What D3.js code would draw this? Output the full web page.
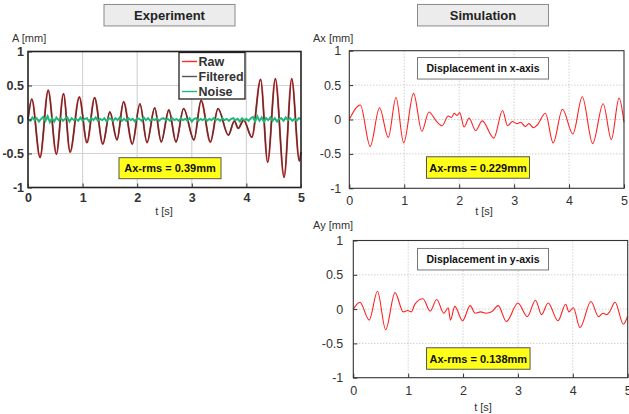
<!DOCTYPE html>
<html>
<head>
<meta charset="utf-8">
<script src="https://cdn.jsdelivr.net/npm/d3@7"></script>
<style>
  body { margin: 0; background: #fff; }
  svg { font-family: "Liberation Sans", Arial, sans-serif; }
</style>
</head>
<body>
<div id="chart"></div>
<script>
// experiment: peaks / troughs (t in s, A in mm)
const expT = [0, 0.07, 0.22, 0.37, 0.52, 0.65, 0.77, 0.94, 1.08, 1.22, 1.37, 1.50, 1.63, 1.75, 1.91, 2.05, 2.18,
  2.32, 2.44, 2.58, 2.71, 2.85, 3.04, 3.17, 3.34, 3.48, 3.67, 3.78, 3.85, 3.95, 4.10, 4.26, 4.39, 4.53, 4.69, 4.83, 4.97, 5.0];
const expA = [0, 0.30, -0.56, 0.43, -0.51, 0.38, -0.48, 0.33, -0.34, 0.32, -0.36, 0.11, -0.30, 0.26, -0.36, 0.23, -0.34,
  0.17, -0.33, 0.14, -0.33, 0.16, -0.30, 0.28, -0.33, 0.16, -0.23, -0.02, -0.13, -0.01, -0.26, 0.59, -0.63, 0.60, -0.85, 0.60, -0.61, -0.48];
// noise, one value every 0.04 s
const noiseA = [0.01, -0.02, 0.03, -0.01, 0.02, -0.03, 0.01, 0.04, -0.02, 0.05, -0.04, 0.02, -0.03, 0.03, -0.01, 0.02,
  -0.02, 0.01, 0.03, -0.03, 0.02, -0.01, 0.01, -0.02, 0.03, -0.02, 0.01, 0.02, -0.03, 0.02, -0.01, 0.03, -0.02, 0.01,
  -0.01, 0.02, -0.03, 0.02, 0.01, -0.02, 0.02, -0.01, 0.03, -0.02, 0.01, -0.02, 0.02, -0.01, 0.01, -0.03, 0.02, 0.01,
  -0.02, 0.03, -0.01, 0.02, -0.02, 0.01, -0.01, 0.02, -0.02, 0.01, 0.02, -0.01, 0.01, -0.02, 0.02, -0.01, 0.01, -0.02,
  0.02, -0.01, 0.01, -0.02, 0.02, -0.03, 0.01, 0.02, -0.02, 0.01, -0.01, 0.02, -0.02, 0.01, -0.01, 0.02, -0.01, 0.01,
  -0.02, 0.02, -0.01, 0.01, -0.02, 0.01, 0.02, -0.01, 0.01, -0.03, 0.02, -0.01, 0.01, -0.02, 0.02, 0.04, -0.03, 0.05,
  -0.02, 0.03, -0.04, 0.02, -0.01, 0.03, -0.02, 0.02, -0.03, 0.01, 0.02, -0.02, 0.03, -0.01, 0.02, -0.02, 0.01, -0.02, 0.02, 0.01];

// simulation x
const simXT = [0, 0.2, 0.38, 0.55, 0.71, 0.85, 0.99, 1.17, 1.32, 1.45, 1.58, 1.69, 1.80, 1.86, 1.91, 1.96, 2.01, 2.09,
  2.18, 2.30, 2.42, 2.63, 2.79, 2.88, 2.97, 3.05, 3.12, 3.20, 3.27, 3.35, 3.42, 3.57, 3.71, 3.88, 4.07, 4.24, 4.43, 4.62, 4.77, 4.91, 5.0];
const simXA = [0, 0.21, -0.39, 0.17, -0.26, 0.32, -0.34, 0.38, -0.17, 0.11, -0.02, -0.09, 0.05, 0.03, 0.09, 0.06, 0.10, -0.11,
  0.02, -0.16, -0.02, -0.27, 0.13, -0.09, -0.03, -0.06, -0.04, -0.10, -0.06, -0.12, -0.08, 0.09, -0.34, 0.15, -0.21, 0.33, -0.35, 0.23, -0.29, 0.31, -0.04];

// simulation y
const simYT = [0, 0.12, 0.29, 0.44, 0.59, 0.76, 0.91, 0.99, 1.06, 1.12, 1.27, 1.40, 1.52, 1.65, 1.73, 1.77, 1.85, 1.99,
  2.13, 2.22, 2.32, 2.42, 2.52, 2.64, 2.79, 3.0, 3.17, 3.32, 3.43, 3.55, 3.73, 3.87, 3.93, 4.01, 4.13, 4.33, 4.47, 4.55, 4.62, 4.67, 4.77, 4.92, 5.0];
const simYA = [0, 0.10, -0.16, 0.26, -0.30, 0.24, -0.04, -0.02, -0.04, 0.07, 0.15, -0.03, 0.14, -0.06, 0.02, -0.16, 0.04, -0.17,
  0.05, -0.06, -0.04, -0.06, -0.04, 0.05, -0.18, 0.09, -0.11, 0.13, -0.08, 0.09, -0.17, 0.07, -0.04, 0.02, -0.27, 0.11, -0.11, -0.06, -0.08, -0.04, 0.10, -0.22, -0.10];

const tTicks = [0, 1, 2, 3, 4, 5];
const aTicks = [1, 0.5, 0, -0.5, -1];
const tickLabel = d => d === 0 ? "0" : String(d);

const svg = d3.select("#chart").append("svg").attr("width", 629).attr("height", 414);

function titleBox(cx, cy, w, h, txt) {
  svg.append("rect").attr("x", cx - w / 2).attr("y", cy - h / 2).attr("width", w).attr("height", h)
    .attr("fill", "#ececec").attr("stroke", "#8a8a8a").attr("stroke-width", 1);
  svg.append("text").attr("x", cx).attr("y", cy + 4.5).attr("text-anchor", "middle")
    .attr("font-size", 13).attr("font-weight", "bold").attr("fill", "#222").text(txt);
}

function label(x, y, txt, size, anchor, weight) {
  return svg.append("text").attr("x", x).attr("y", y).attr("font-size", size)
    .attr("text-anchor", anchor || "start").attr("font-weight", weight || "normal").attr("fill", "#333").text(txt);
}

function panel(p) {
  const x = d3.scaleLinear().domain([0, 5]).range([p.x0, p.x1]);
  const y = d3.scaleLinear().domain([-1, 1]).range([p.y1, p.y0]);
  const g = svg.append("g");
  g.append("rect").attr("x", p.x0).attr("y", p.y0).attr("width", p.x1 - p.x0).attr("height", p.y1 - p.y0).attr("fill", "#fff");
  // grid
  const grid = g.append("g").attr("stroke", p.matlab ? "#d4d4d4" : "#aaa")
    .attr("stroke-width", p.matlab ? 1.2 : 0.8).attr("stroke-dasharray", p.matlab ? null : "1,2");
  tTicks.slice(1, -1).forEach(t => grid.append("line").attr("x1", x(t)).attr("x2", x(t)).attr("y1", p.y0).attr("y2", p.y1));
  aTicks.slice(1, -1).forEach(a => grid.append("line").attr("x1", p.x0).attr("x2", p.x1).attr("y1", y(a)).attr("y2", y(a)));
  return { x, y, g };
}

function frame(p, s) {
  const fg = svg.append("g");
  fg.append("rect").attr("x", p.x0).attr("y", p.y0).attr("width", p.x1 - p.x0).attr("height", p.y1 - p.y0)
    .attr("fill", "none").attr("stroke", p.matlab ? "#222" : "#333").attr("stroke-width", p.matlab ? 1.6 : 1.1);
  const bottom = fg.append("g").attr("transform", "translate(0," + p.y1 + ")")
    .call(d3.axisBottom(s.x).tickValues(tTicks).tickFormat(tickLabel).tickSizeInner(-4).tickSizeOuter(0).tickPadding(p.xPad));
  const left = fg.append("g").attr("transform", "translate(" + p.x0 + ",0)")
    .call(d3.axisLeft(s.y).tickValues(aTicks).tickFormat(tickLabel).tickSizeInner(-4).tickSizeOuter(0).tickPadding(p.yPad));
  [bottom, left].forEach(a => {
    a.select(".domain").remove();
    a.selectAll("line").attr("stroke", "#333");
    a.selectAll("text").attr("font-size", 12.5).attr("fill", "#333")
      .attr("font-weight", p.matlab ? "bold" : "normal").attr("font-family", "Liberation Sans, Arial, sans-serif");
  });
}

function curve(s, ts, vs, color, width) {
  const line = d3.line().x((d, i) => s.x(ts[i])).y(d => s.y(d)).curve(d3.curveMonotoneX);
  s.g.append("path").datum(vs).attr("d", line).attr("fill", "none")
    .attr("stroke", color).attr("stroke-width", width).attr("stroke-linejoin", "round");
}

function rmsBox(cx, cy, w, h, txt) {
  svg.append("rect").attr("x", cx - w / 2).attr("y", cy - h / 2).attr("width", w).attr("height", h)
    .attr("fill", "#ffff1a").attr("stroke", "#555").attr("stroke-width", 1);
  svg.append("text").attr("x", cx).attr("y", cy + 4).attr("text-anchor", "middle")
    .attr("font-size", 11).attr("font-weight", "bold").attr("fill", "#111").text(txt);
}

function infoBox(cx, cy, w, h, txt) {
  svg.append("rect").attr("x", cx - w / 2).attr("y", cy - h / 2).attr("width", w).attr("height", h)
    .attr("fill", "#fff").attr("stroke", "#777").attr("stroke-width", 1);
  svg.append("text").attr("x", cx).attr("y", cy + 4).attr("text-anchor", "middle")
    .attr("font-size", 10.5).attr("font-weight", "bold").attr("fill", "#111").text(txt);
}

// ---- Experiment
titleBox(169.5, 15.2, 131, 21.5, "Experiment");
const pE = { x0: 28, x1: 301, y0: 51.5, y1: 187.5, matlab: true, xPad: 6, yPad: 4 };
const sE = panel(pE);
curve(sE, expT, expA, "#ff3030", 1.9);
curve(sE, expT, expA, "#4a3434", 1.3);
const noiseT = noiseA.map((d, i) => Math.min(5, i * 0.04));
sE.g.append("path").datum(noiseA)
  .attr("d", d3.line().x((d, i) => sE.x(noiseT[i])).y(d => sE.y(d)))
  .attr("fill", "none").attr("stroke", "#1fb777").attr("stroke-width", 1.9);
frame(pE, sE);
label(12, 42, "A [mm]", 11);
label(164, 215, "t [s]", 11, "middle");

// legend
const legend = svg.append("g");
legend.append("rect").attr("x", 179).attr("y", 52.5).attr("width", 66).attr("height", 46.5)
  .attr("fill", "#fff").attr("stroke", "#222").attr("stroke-width", 1.3);
const legItems = ["Raw", "Filtered", "Noise"];
const legColors = ["#ff2a2a", "#555", "#1fb777"];
legItems.forEach((name, i) => {
  const yy = 61.5 + i * 15;
  legend.append("line").attr("x1", 182).attr("x2", 197).attr("y1", yy).attr("y2", yy)
    .attr("stroke", legColors[i]).attr("stroke-width", 1.4);
  legend.append("text").attr("x", 198.5).attr("y", yy + 4.3).attr("font-size", 12.5).attr("font-weight", "bold")
    .attr("fill", "#333").text(name);
});
rmsBox(170, 168.2, 102, 21, "Ax-rms = 0.39mm");

// ---- Simulation
titleBox(483, 15.2, 131, 21.5, "Simulation");

const pX = { x0: 349.3, x1: 624, y0: 50.7, y1: 188.3, matlab: false, xPad: 8, yPad: 8 };
const sX = panel(pX);
curve(sX, simXT, simXA, "#ff2020", 1.1);
frame(pX, sX);
infoBox(483, 68.3, 131, 21.5, "Displacement in x-axis");
rmsBox(478, 167.5, 103, 21.5, "Ax-rms = 0.229mm");
label(313, 41.5, "Ax [mm]", 11);
label(484, 215, "t [s]", 11, "middle");

const pY = { x0: 353.3, x1: 627.7, y0: 240.5, y1: 377.7, matlab: false, xPad: 8, yPad: 10 };
const sY = panel(pY);
curve(sY, simYT, simYA, "#ff2020", 1.1);
frame(pY, sY);
infoBox(483, 259.2, 131, 21.5, "Displacement in y-axis");
rmsBox(478.3, 358.5, 103.5, 21.5, "Ax-rms = 0.138mm");
label(313, 229, "Ay [mm]", 11);
label(483, 411, "t [s]", 11, "middle");
</script>
</body>
</html>
